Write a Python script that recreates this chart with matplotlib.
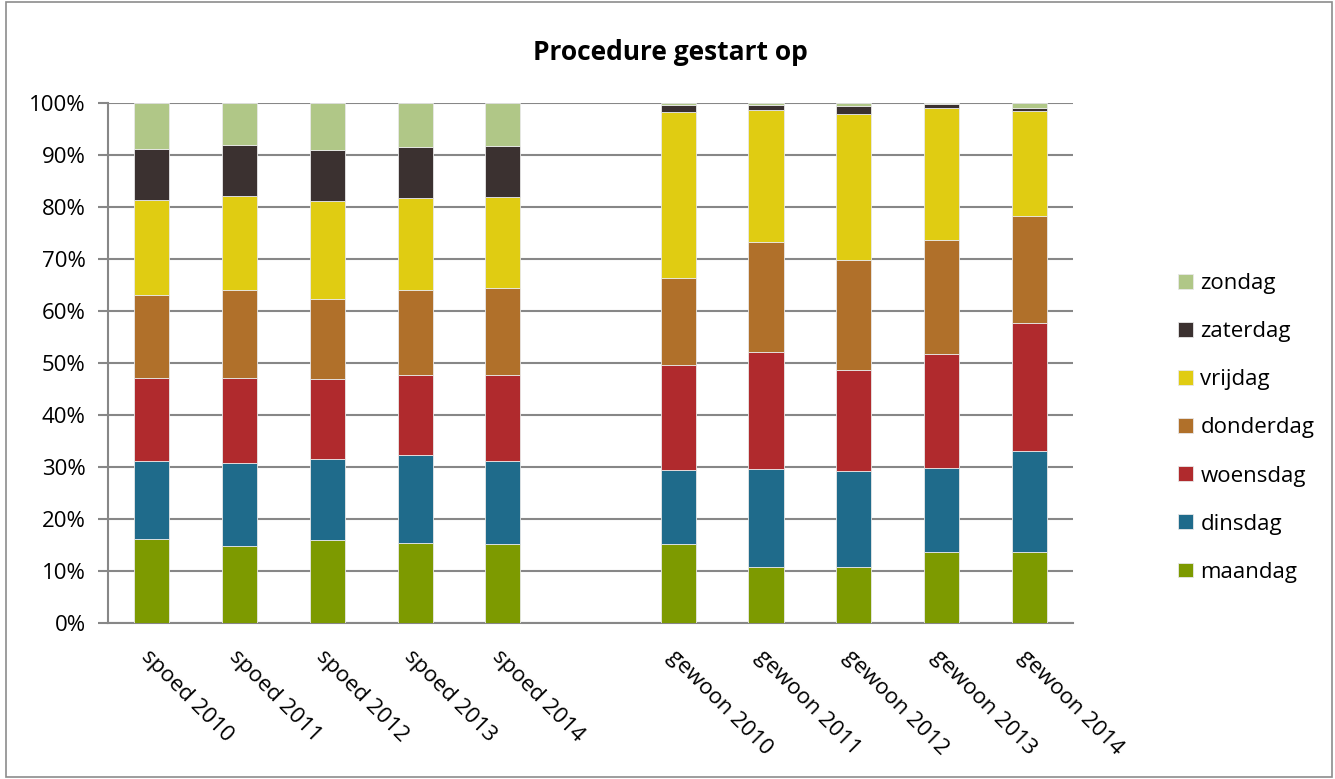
import numpy as np
import matplotlib.pyplot as plt
from matplotlib.patches import Rectangle
from matplotlib.ticker import FuncFormatter

# ---- data (percentages per weekday) ----
categories = ["spoed 2010", "spoed 2011", "spoed 2012", "spoed 2013", "spoed 2014",
              "gewoon 2010", "gewoon 2011", "gewoon 2012", "gewoon 2013", "gewoon 2014"]
days = ["maandag", "dinsdag", "woensdag", "donderdag", "vrijdag", "zaterdag", "zondag"]

maandag   = [16.1, 14.9, 16.0, 15.4, 15.2, 15.2, 10.8, 10.8, 13.6, 13.6]
dinsdag   = [15.1, 15.8, 15.5, 17.0, 15.9, 14.2, 18.9, 18.4, 16.2, 19.5]
woensdag  = [16.0, 16.5, 15.4, 15.3, 16.5, 20.2, 22.4, 19.4, 21.9, 24.5]
donderdag = [15.9, 16.9, 15.4, 16.3, 16.8, 16.8, 21.2, 21.3, 22.0, 20.7]
vrijdag   = [18.2, 18.0, 18.9, 17.7, 17.5, 31.9, 25.3, 28.0, 25.4, 20.2]
zaterdag  = [9.9, 9.8, 9.8, 9.9, 9.8, 1.4, 1.1, 1.6, 0.7, 0.5]
zondag    = [8.8, 8.1, 9.0, 8.4, 8.3, 0.3, 0.3, 0.5, 0.2, 1.0]

series = [maandag, dinsdag, woensdag, donderdag, vrijdag, zaterdag, zondag]
colors = ["#7D9A00", "#1F6B8B", "#B02A2D", "#B0702A", "#E0CC12", "#3B3130", "#B0C787"]

# empty slot between the spoed and gewoon groups
positions = [0, 1, 2, 3, 4, 6, 7, 8, 9, 10]

plt.rcParams['font.family'] = ['Open Sans', 'DejaVu Sans']

fig = plt.figure(figsize=(13.35, 7.79), dpi=100)
ax = fig.add_axes([108 / 1335, 1 - 623 / 779, (1073 - 108) / 1335, (623 - 103) / 779])

bottom = np.zeros(len(categories))
handles = []
for name, vals, col in zip(days, series, colors):
    vals = np.array(vals)
    h = ax.bar(positions, vals, width=0.4, bottom=bottom, color=col,
               edgecolor="#e8e8e8", linewidth=0.6, label=name, zorder=3)
    handles.append(h)
    bottom += vals

ax.set_xlim(-0.5, 10.5)
ax.set_ylim(0, 100)
ax.set_yticks(np.arange(0, 101, 10))
ax.yaxis.set_major_formatter(FuncFormatter(lambda v, p: f"{int(v)}%"))
ax.grid(axis="y", color="#878787", linewidth=1.5, zorder=0)
ax.set_axisbelow(True)

for s in ["top", "right"]:
    ax.spines[s].set_visible(False)
ax.spines["left"].set_color("#878787")
ax.spines["left"].set_linewidth(1.5)
ax.spines["bottom"].set_color("#878787")
ax.spines["bottom"].set_linewidth(1.5)

ax.tick_params(axis="y", length=7, width=1.5, color="#878787", labelsize=16, pad=9)
ax.tick_params(axis="x", length=0, labelsize=16, pad=17)
ax.set_xticks(positions)
ax.set_xticklabels(categories, rotation=-45, ha="left", va="top", rotation_mode="anchor")

fig.text(0.502, 1 - 52 / 779, "Procedure gestart op", ha="center", va="center",
         fontsize=19, fontweight="bold")

ax.legend(handles[::-1], days[::-1], loc="center left", bbox_to_anchor=(1167 / 1335, 1 - 428 / 779),
          bbox_transform=fig.transFigure, frameon=False, fontsize=16,
          handlelength=0.65, handleheight=0.65, handletextpad=0.35, labelspacing=1.22,
          borderpad=0)

# chart border
fig.patches.append(Rectangle((6 / 1335, 0.002), 1 - 9 / 1335, 0.995, transform=fig.transFigure,
                             fill=False, edgecolor="#8c8c8c", linewidth=1.2))

fig.savefig("out.png", dpi=100)
